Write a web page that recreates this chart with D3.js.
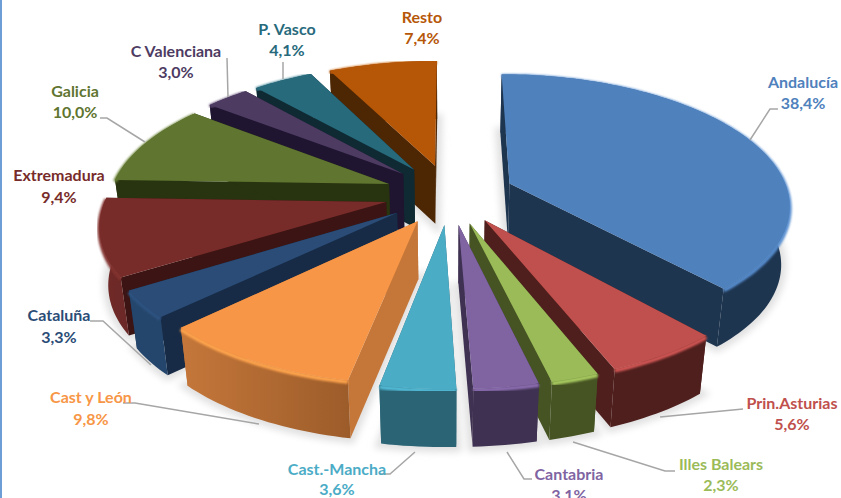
<!DOCTYPE html>
<html>
<head>
<meta charset="utf-8">
<script src="https://cdn.jsdelivr.net/npm/d3@7"></script>
<style>
    html, body { margin: 0; padding: 0; background: #fff; overflow: hidden; }
    text { font-family: Lato, "Open Sans", sans-serif; font-weight: 700; font-size: 16px; text-anchor: middle; }
</style>
</head>
<body>
<svg id="svg" width="841" height="498"></svg>
<script>
// clockwise from 12 o'clock, as in the source chart
const regions = ['Andalucía', 'Prin.Asturias', 'Illes Balears', 'Cantabria', 'Cast.-Mancha', 'Cast y León',
    'Cataluña', 'Extremadura', 'Galicia', 'C Valenciana', 'P. Vasco', 'Resto'];
const shares = [38.4, 5.6, 2.3, 3.1, 3.6, 9.8, 3.3, 9.4, 10.0, 3.0, 4.1, 7.4];

const topColors = ['#4f81bd', '#c0504d', '#9bbb59', '#8064a2', '#4bacc6', '#f79646',
    '#2a4c76', '#772c2a', '#5f7530', '#4d3b62', '#276a7c', '#b65708'];
const sideColors = ['#1e3550', '#4f1f1d', '#465423', '#3f3151', '#2a6475', '#c5773a',
    '#172b46', '#3c1413', '#28330f', '#1f1530', '#0f2a32', '#4d2604'];
const wallLeft = ['#1e3550', '#4f1f1d', '#465423', '#3f3151', '#2a6475', '#c5773a',
    '#25466c', '#722b29', '#28330f', '#1f1530', '#0f2a32', '#4d2604'];
const wallRight = ['#1e3550', '#4f1f1d', '#465423', '#3f3151', '#2a6475', '#9c5c2a',
    '#25466c', '#6a2826', '#28330f', '#1f1530', '#0f2a32', '#4d2604'];

// label centre [x, name y, value y]
const labelSpots = [[803, 88, 109], [792, 409, 430], [721, 470, 491], [569, 480, 501], [337, 475, 495], [91, 403, 425],
    [59, 321, 343], [59, 181, 203], [75, 97, 118], [176, 57, 78], [287, 35, 56], [422, 23, 44]];
const leaders = [
    [[750, 140], [770, 109], [778, 109]],
    [[660, 417], [743, 409]],
    [[573, 442], [665, 471], [675, 471]],
    [[507, 452], [524, 479], [532, 479]],
    [[415, 452], [390, 474], [380, 474]],
    [[259, 424], [135, 403], [123, 403]],
    [[151, 365], [103, 321], [90, 321]],
    [[145, 142], [107, 118], [100, 118]],
    [[228, 97], [227, 58]],
    [[283, 79], [283, 62]]
];

// perspective of the ground plane
const cx = 449.5, radius = 279, explode = 65;
const focal = 1835, rise = 846, horizon = -652;
const depth = 58, shrink = 0.975;

function project(x, y) {
    let s = focal / (focal - y);
    return [cx + x * s, horizon + rise * s];
}

function lower(p) {
    return [cx + (p[0] - cx) * shrink, p[1] + depth];
}

function arcPoints(d) {
    let mid = (d.startAngle + d.endAngle) / 2;
    let ox = explode * Math.sin(mid), oy = -explode * Math.cos(mid);
    let n = Math.max(6, Math.ceil((d.endAngle - d.startAngle) * 40));
    let outer = d3.range(n + 1).map(i => {
        let a = d.startAngle + (d.endAngle - d.startAngle) * i / n;
        return project(ox + radius * Math.sin(a), oy - radius * Math.cos(a));
    });
    return { apex: project(ox, oy), outer: outer, mid: mid };
}

const pie = d3.pie().sort(null).value(d => d);
const line = d3.line();
const closed = pts => line(pts) + 'Z';

const slices = pie(shares).map((d, i) => Object.assign(arcPoints(d), { i: i }));
// back pieces first
const drawOrder = slices.slice().sort((a, b) => d3.ascending(-Math.cos(a.mid), -Math.cos(b.mid)));

const svg = d3.select('#svg');
const defs = svg.append('defs');
defs.append('filter').attr('id', 'soft').attr('x', '-20%').attr('y', '-20%').attr('width', '140%').attr('height', '140%')
    .append('feGaussianBlur').attr('stdDeviation', 3.5);
defs.append('filter').attr('id', 'bevel').attr('x', '-10%').attr('y', '-10%').attr('width', '120%').attr('height', '120%')
    .append('feGaussianBlur').attr('stdDeviation', 1);

slices.forEach(s => {
    let g = defs.append('linearGradient').attr('id', 'wall' + s.i);
    g.append('stop').attr('offset', 0).attr('stop-color', wallLeft[s.i]);
    g.append('stop').attr('offset', 1).attr('stop-color', wallRight[s.i]);
});

// thin rule at the left edge of the screenshot
svg.append('rect').attr('width', 2).attr('height', 498).attr('fill', '#6d9ed6');

// ground shadow
svg.append('g').attr('filter', 'url(#soft)')
    .selectAll('path').data(slices).enter().append('path')
    .attr('d', s => closed([s.apex].concat(s.outer).map(lower)))
    .attr('fill', '#e0e0e0')
    .attr('stroke', '#e0e0e0')
    .attr('stroke-width', 10);

const pieces = svg.append('g').selectAll('g').data(drawOrder).enter().append('g');

pieces.append('path')
    .attr('d', s => {
        let a = s.outer[0];
        return closed([s.apex, a, lower(a), lower(s.apex)]);
    })
    .attr('fill', s => sideColors[s.i]);

pieces.append('path')
    .attr('d', s => {
        let a = s.outer[s.outer.length - 1];
        return closed([s.apex, a, lower(a), lower(s.apex)]);
    })
    .attr('fill', s => sideColors[s.i]);

pieces.append('path')
    .attr('d', s => closed(s.outer.concat(s.outer.map(lower).reverse())))
    .attr('fill', s => `url(#wall${s.i})`);

// soft highlight where the top rolls over into the wall
pieces.append('path')
    .attr('d', s => line(s.outer))
    .attr('transform', 'translate(0,1.5)')
    .attr('fill', 'none')
    .attr('stroke', s => d3.color(topColors[s.i]).brighter(0.25))
    .attr('stroke-width', 4)
    .attr('filter', 'url(#bevel)');

pieces.append('path')
    .attr('d', s => closed([s.apex].concat(s.outer)))
    .attr('fill', s => topColors[s.i]);

svg.append('g').selectAll('path').data(leaders).enter().append('path')
    .attr('d', d => line(d))
    .attr('fill', 'none')
    .attr('stroke', '#a6a6a6')
    .attr('stroke-width', 1.5);

const labels = svg.append('g').selectAll('g').data(regions).enter().append('g')
    .attr('fill', (d, i) => topColors[i]);
labels.append('text')
    .attr('x', (d, i) => labelSpots[i][0])
    .attr('y', (d, i) => labelSpots[i][1])
    .text(d => d);
labels.append('text')
    .attr('x', (d, i) => labelSpots[i][0])
    .attr('y', (d, i) => labelSpots[i][2])
    .text((d, i) => shares[i].toFixed(1).replace('.', ',') + '%');
</script>
</body>
</html>
